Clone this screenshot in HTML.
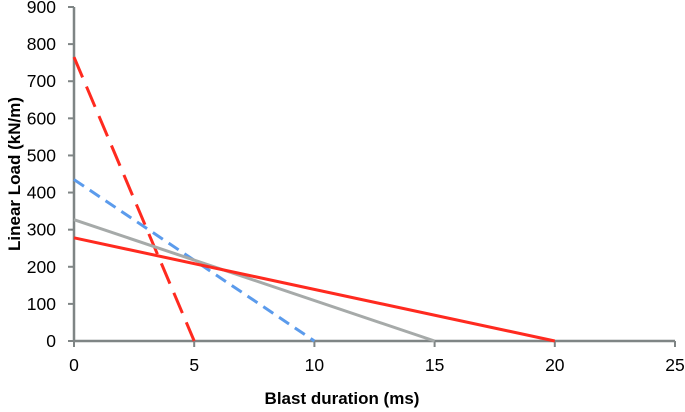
<!DOCTYPE html>
<html><head><meta charset="utf-8"><style>body{margin:0;background:#fff}svg{display:block;font-family:"Liberation Sans",sans-serif}</style></head>
<body>
<svg id="c" width="685" height="412"></svg>
<script>
const xTicks=[0,5,10,15,20,25];
const yTicks=[0,100,200,300,400,500,600,700,800,900];
const seriesNames=["red-dashed","blue-dashed","gray-solid","red-solid"];
const startLoads=[765,435,327,278];
const durations=[5,10,15,20];
const colors=["#ff2a1f","#5b9bec","#a6aaa9","#ff2a1f"];
const dashes=["22,10","12,7","",""];
const X0=74,X1=675,Y0=341,Y1=7;
const xs=v=>X0+(v-0)/25*(X1-X0);
const ys=v=>Y0-(v/900)*(Y0-Y1);
const svg=document.getElementById('c');const NS="http://www.w3.org/2000/svg";
function mk(t,a,txt){const e=document.createElementNS(NS,t);for(const k in a)e.setAttribute(k,a[k]);if(txt!==undefined)e.textContent=txt;svg.appendChild(e);return e;}
let e;
e=mk('line',{x1:X0,y1:Y0,x2:X1,y2:Y0,stroke:'#7f8585','stroke-width':2.5});

e=mk('line',{x1:X0,y1:Y0,x2:X0,y2:Y1,stroke:'#7f8585','stroke-width':2.5});

xTicks.forEach(v=>{e=mk('line',{x1:xs(v),y1:Y0,x2:xs(v),y2:Y0+6,stroke:'#7f8585','stroke-width':2});

e=mk('text',{x:xs(v),y:Y0+30,'text-anchor':'middle','font-size':17.5,fill:'#000'},v);
});
yTicks.forEach(v=>{e=mk('line',{x1:X0-6,y1:ys(v),x2:X0,y2:ys(v),stroke:'#7f8585','stroke-width':2});

e=mk('text',{x:56,y:ys(v)+6,'text-anchor':'end','font-size':17.5,fill:'#000'},v);
});
startLoads.forEach((s,i)=>{const a={x1:xs(0),y1:ys(s),x2:xs(durations[i]),y2:ys(0),stroke:colors[i],'stroke-width':3};
if(dashes[i])a['stroke-dasharray']=dashes[i];e=mk('line',a);
});
e=mk('text',{x:342,y:404,'text-anchor':'middle','font-size':17,'font-weight':'bold'},'Blast duration (ms)');

e=mk('text',{x:0,y:0,'text-anchor':'middle','font-size':17,'font-weight':'bold',transform:'translate(20,174) rotate(-90)','xml:space':'preserve'},'Linear Load  (kN/m)');

</script>
</body></html>
